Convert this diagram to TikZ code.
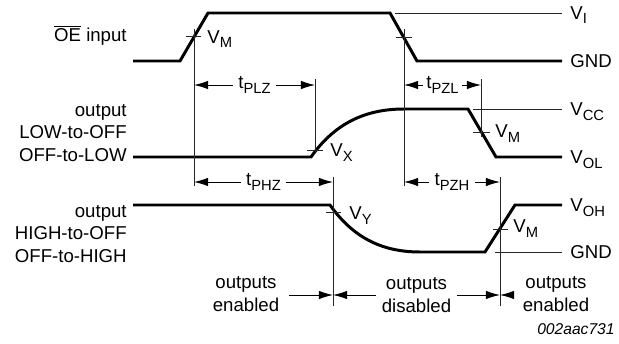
\documentclass[tikz,border=0pt]{standalone}
\usepackage{fontspec}
\setmainfont{Liberation Sans}
\usetikzlibrary{arrows.meta}
\newcommand{\subtxt}[1]{\raisebox{-0.45ex}{\fontsize{8.4}{8.4}\selectfont #1}}
\tikzstyle{wave} = [line width=1.7pt, line join=miter]
\tikzstyle{guide} = [line width=0.55pt, draw=black!85]
\tikzstyle{timearrow} = [line width=0.55pt, draw=black,
                         arrows={Latex[length=8pt,width=4.8pt]-Latex[length=8pt,width=4.8pt]}]
\tikzstyle{stopper} = [line width=0.55pt, draw=black,
                       arrows={-Latex[length=8pt,width=4.8pt]}]
\tikzstyle{sig} = [anchor=east, align=right, inner sep=0pt,
                   font=\fontsize{10.6}{12.7}\selectfont]
\tikzstyle{level} = [anchor=base west, inner sep=0pt,
                     font=\fontsize{10.6}{12.7}\selectfont]
\tikzstyle{phase} = [align=center, inner sep=3.5pt, text=black,
                     font=\fontsize{10.6}{12.7}\selectfont]
\tikzstyle{tlabel} = [fill=white, draw=none, text=black, inner sep=3pt,
                      font=\fontsize{10.6}{12.7}\selectfont]

\begin{document}
\begin{tikzpicture}[x=0.02cm, y=-0.02cm]
        \useasboundingbox (0,0) rectangle (619,344);

        % signal names
        \node (oeIn) [sig, anchor=base east] at (127,42) {$\overline{\mbox{OE}}$ input};
        \node (loOut) [sig] at (127,133) {output\\LOW-to-OFF\\OFF-to-LOW};
        \node (hiOut) [sig] at (127,234) {output\\HIGH-to-OFF\\OFF-to-HIGH};

        % levels
        \node (vi) [level] at (570,19.5) {V\subtxt{I}};
        \node (gndA) [level] at (570,67.6) {GND};
        \node (vcc) [level] at (570,115.6) {V\subtxt{CC}};
        \node (vol) [level] at (570,163.6) {V\subtxt{OL}};
        \node (voh) [level] at (570,211.6) {V\subtxt{OH}};
        \node (gndB) [level] at (570,258.6) {GND};

        % waveforms
        \draw [wave] (133,61) -- (180,61) -- (208,13) -- (390,13) -- (417,61) -- (562,61);
        \draw [wave] (133,157) -- (311,157) .. controls (333,126) and (362,109) .. (404,109)
                     -- (468,109) -- (496,157) -- (562,157);
        \draw [wave] (133,205) -- (330,205) .. controls (352,236) and (380,252) .. (420,252)
                     -- (485,252) -- (515,205) -- (562,205);
        \draw [guide] (395,13) -- (562,13);
        \draw [guide] (473,109) -- (562,109);
        \draw [guide] (495,252) -- (562,252);

        % reference lines
        \coordinate (plzL) at (194,85);   \coordinate (plzR) at (315,85);
        \coordinate (pzlL) at (404,85);   \coordinate (pzlR) at (481,85);
        \coordinate (phzL) at (194,182);  \coordinate (phzR) at (333,182);
        \coordinate (pzhL) at (404,182);  \coordinate (pzhR) at (500,182);
        \draw [guide] (194,29) -- (194,186);
        \draw [guide] (404,29) -- (404,186);
        \draw [guide] (315,79) -- (315,152);
        \draw [guide] (481,79) -- (481,137);
        \draw [guide] (333,177) -- (333,306);
        \draw [guide] (500,177) -- (500,306);

        % switch points
        \draw [guide] (186,36) -- (201,36);
        \draw [guide] (396,37) -- (412,37);
        \draw [guide] (307,150) -- (323,150);
        \draw [guide] (473,132) -- (490,132);
        \draw [guide] (326,212) -- (341,212);
        \draw [guide] (493,229) -- (508,229);
        \node (vmA) [level] at (207,43.5) {V\subtxt{M}};
        \node (vx) [level] at (330,157) {V\subtxt{X}};
        \node (vmB) [level] at (495,138) {V\subtxt{M}};
        \node (vy) [level] at (349,220) {V\subtxt{Y}};
        \node (vmC) [level] at (513,233) {V\subtxt{M}};

        % timing
        \draw [timearrow] (plzL) -- node [tlabel] {t\subtxt{PLZ}} (plzR);
        \draw [timearrow] (pzlL) -- node [tlabel, inner sep=2pt] {t\subtxt{PZL}} (pzlR);
        \draw [timearrow] (phzL) -- node [tlabel] {t\subtxt{PHZ}} (phzR);
        \draw [timearrow] (pzhL) -- node [tlabel] {t\subtxt{PZH}} (pzhR);

        % output states
        \coordinate (stA) at (333,295);
        \coordinate (stB) at (500,295);
        \node (enL) [phase] at (246,294) {outputs\\enabled};
        \node (enR) [phase] at (556,294) {outputs\\enabled};
        \draw [stopper] ([xshift=2pt]enL.east |- stA) -- (stA);
        \draw [timearrow] (stA) -- node [phase, fill=white] {outputs\\disabled} (stB);
        \draw [stopper] ([xshift=-3pt]enR.west |- stB) -- (stB);

        \node (figId) [anchor=base east, inner sep=0pt,
                       font=\fontsize{8.9}{9}\selectfont\itshape] at (615,335) {002aac731};

\end{tikzpicture}
\end{document}
